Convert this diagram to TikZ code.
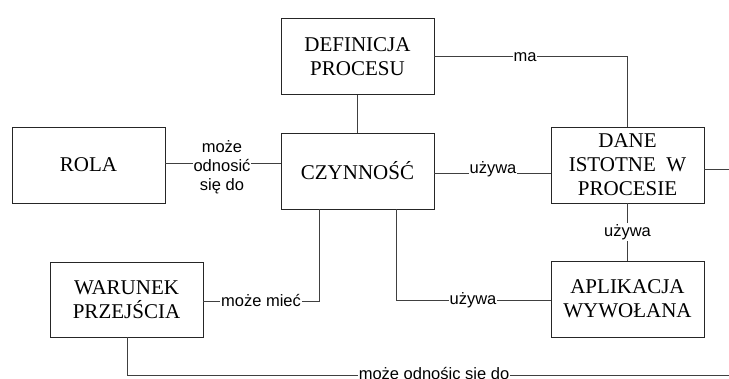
\documentclass[tikz,border=0pt]{standalone}
\usepackage{fontspec}
\setmainfont{Liberation Serif}
\newfontfamily\lblfont{Liberation Sans}
\begin{document}
\begin{tikzpicture}[x=1pt,y=-1pt,
  box/.style={draw=black!85,line width=0.8pt,minimum width=153pt,minimum height=76pt,
    align=center,font=\fontsize{21}{24}\selectfont,inner sep=2pt},
  conn/.style={draw=black!75,line width=0.8pt},
  lbl/.style={fill=white,inner sep=1pt,font=\lblfont\fontsize{16.5}{19}\selectfont,align=center}]
\useasboundingbox (0,0) rectangle (729,379);
\node[box] (def) at (357.5,56.5) {DEFINICJA\\PROCESU};
\node[box] (rola) at (88.5,165) {ROLA};
\node[box] (czyn) at (357.5,171) {CZYNNOŚĆ};
\node[box] (dane) at (627.5,165) {DANE\\ISTOTNE~~W\\PROCESIE};
\node[box,minimum height=75pt] (war) at (126.5,299.5) {WARUNEK\\PRZEJŚCIA};
\node[box] (apl) at (627.5,299) {APLIKACJA\\WYWOŁANA};
\coordinate (e1) at (729,169);
\coordinate (e2) at (729,375);
% DEFINICJA - CZYNNOSC
\draw[conn] (def.south) -- (czyn.north);
% DEFINICJA - ma - DANE
\draw[conn] (def.east) -- (def.east -| dane.north) -- (dane.north);
\node[lbl] (lma) at (525,57) {ma};
% ROLA - CZYNNOSC
\draw[conn] ([yshift=2pt]rola.east) -- ([yshift=2pt]rola.east -| czyn.west);
\node[lbl] (lrola) at (222,167) {może\\odnosić\\się do};
% CZYNNOSC - DANE
\draw[conn] ([yshift=-2pt]czyn.east) -- ([yshift=-2pt]czyn.east -| dane.west);
\node[lbl] (lu1) at (493,169) {używa};
% DANE - right edge
\draw[conn] (dane.east |- e1) -- (e1);
% DANE - APLIKACJA
\draw[conn] (dane.south) -- (apl.north);
\node[lbl] (lu2) at (627.5,232) {używa};
% WARUNEK - CZYNNOSC
\coordinate (c1) at (319,301);
\draw[conn] (war.east |- c1) -- (c1) -- (c1 |- czyn.south);
\node[lbl] (lmm) at (261,301) {może mieć};
% CZYNNOSC - APLIKACJA
\coordinate (c2) at (396,300);
\draw[conn] (c2 |- czyn.south) -- (c2) -- (c2 -| apl.west);
\node[lbl] (lu3) at (473,300) {używa};
% WARUNEK - bottom line
\coordinate (c3) at (127,375);
\draw[conn] (c3 |- war.south) -- (c3) -- (e2);
\node[lbl] (lbot) at (434,375) {może odnośic się do};
\end{tikzpicture}
\end{document}
